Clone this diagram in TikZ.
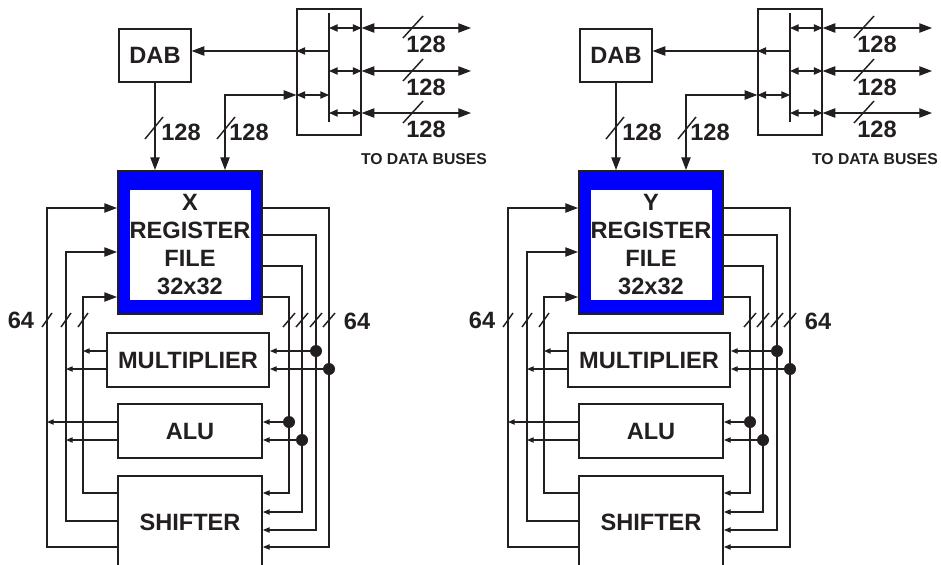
\documentclass[tikz,border=0pt]{standalone}
\usepackage{fontspec}
\setmainfont{Liberation Sans}
\usetikzlibrary{arrows.meta}
\definecolor{ink}{RGB}{35,31,32}
\tikzset{
  bigtip/.tip={Triangle[length=9.5pt,width=7pt]},
  medtip/.tip={Triangle[length=6.5pt,width=5.5pt]},
  smalltip/.tip={Triangle[length=5pt,width=4pt]},
  conn/.style={draw=ink,line width=0.8pt},
  slash/.style={draw=ink,line width=1.1pt},
  bar/.style={draw=ink,line width=1.6pt},
  thinbox/.style={draw=ink,line width=0.9pt,inner sep=0pt,fill=white},
  fnbox/.style={draw=ink,line width=1.4pt,inner sep=0pt,fill=white},
  rfouter/.style={draw=ink,line width=1.5pt,fill=blue,inner sep=0pt},
  rfinner/.style={fill=white,draw=none,inner sep=0pt},
  dot/.style={circle,fill=ink,draw=none,minimum size=9pt,inner sep=0pt},
  lbl/.style={inner sep=0pt},
  smalllbl/.style={inner sep=0pt,font=\bfseries\fontsize{11.8}{13}\selectfont},
}
\newcommand\regunit[3]{%
\begin{scope}[xshift=#2*0.75pt]
  % boxes
  \node[thinbox,minimum width=54pt,minimum height=39.75pt] (dab#1) at (155,55.5) {DAB};
  \node[thinbox,minimum width=48pt,minimum height=94.5pt] (mux#1) at (329,72) {};
  \node[rfouter,minimum width=108pt,minimum height=107.25pt] (rf#1) at (190,242.5) {};
  \node[rfinner,minimum width=90.75pt,minimum height=82.5pt,align=center] (rft#1) at (190,244.5) {#1\\REGISTER\\FILE\\32x32};
  \node[fnbox,minimum width=121.5pt,minimum height=40.5pt] (mul#1) at (188,360) {MULTIPLIER};
  \node[fnbox,minimum width=108pt,minimum height=40.5pt] (alu#1) at (190,431) {ALU};
  \node[fnbox,minimum width=108pt,minimum height=69pt] (shf#1) at (190,522) {SHIFTER};
  % bus bar in mux
  \coordinate (bt#1) at (329,13);
  \coordinate (bb#1) at (329,122);
  \draw[bar] (bt#1) -- (bb#1);
  \foreach \yy/\nn in {28/a,71/b,113/c}{
    \coordinate (bus\nn#1) at (329,\yy);
    \coordinate (be\nn#1) at (471,\yy);
    \draw[conn,{medtip}-{medtip}] (bus\nn#1) -- (bus\nn#1 -| mux#1.east);
    \draw[conn,{bigtip}-{bigtip}] (bus\nn#1 -| mux#1.east) -- (be\nn#1);
  }
  % to DAB
  \coordinate (df#1) at (329,51);
  \draw[conn,-{medtip}] (df#1) -- (df#1 -| mux#1.west);
  \draw[conn,-{bigtip}] (df#1 -| mux#1.west) -- (df#1 -| dab#1.east);
  % register file bidirectional
  \coordinate (rb#1) at (329,95);
  \coordinate (rc#1) at (225,95);
  \draw[conn,{medtip}-{medtip}] (rb#1 -| mux#1.west) -- (rb#1);
  \draw[conn,{bigtip}-{bigtip}] (rc#1 |- rf#1.north) -- (rc#1) -- (rb#1 -| mux#1.west);
  % DAB down
  \draw[conn,-{bigtip}] (dab#1.south) -- (dab#1.south |- rf#1.north);
  % 128 slashes on vertical lines
  \draw[slash] (145,139) -- (163,117);
  \node[lbl] (la#1) at (181,132) {128};
  \draw[slash] (217,139) -- (235,117);
  \node[lbl] (lb#1) at (249,132) {128};
  \begin{scope}[xshift=#3*0.75pt]
    \foreach \yy/\nn in {28/a,71/b,113/c}{
      \draw[slash] (403,\yy+10) -- (423,\yy-12);
      \node[lbl] (lbl\nn#1) at (426,\yy+16) {128};
    }
    \node[smalllbl] (tdb#1) at (424,159) {TO DATA BUSES};
  \end{scope}
  % left feedback columns
  \coordinate (s1#1) at (83,493);
  \coordinate (s2#1) at (66,521);
  \coordinate (s3#1) at (47,547);
  \coordinate (t1#1) at (47,208);
  \coordinate (t2#1) at (66,252);
  \coordinate (t3#1) at (83,297);
  \draw[conn,-{bigtip}] (s3#1 -| shf#1.west) -- (s3#1) -- (t1#1) -- (t1#1 -| rf#1.west);
  \draw[conn,-{bigtip}] (s2#1 -| shf#1.west) -- (s2#1) -- (t2#1) -- (t2#1 -| rf#1.west);
  \draw[conn,-{bigtip}] (s1#1 -| shf#1.west) -- (s1#1) -- (t3#1) -- (t3#1 -| rf#1.west);
  \coordinate (mo1#1) at (83,351);
  \coordinate (mo2#1) at (66,369);
  \coordinate (ao1#1) at (47,422);
  \coordinate (ao2#1) at (66,440);
  \draw[conn,-{smalltip}] (mo1#1 -| mul#1.west) -- (mo1#1);
  \draw[conn,-{smalltip}] (mo2#1 -| mul#1.west) -- (mo2#1);
  \draw[conn,-{smalltip}] (ao1#1 -| alu#1.west) -- (ao1#1);
  \draw[conn,-{smalltip}] (ao2#1 -| alu#1.west) -- (ao2#1);
  % right columns
  \foreach \xx/\ya/\yb/\nn in {329/208/547/a,316/235/530/b,302/266/512/c,289/297/493/d}{
    \coordinate (rt\nn#1) at (\xx,\ya);
    \coordinate (rd\nn#1) at (\xx,\yb);
    \draw[conn,-{smalltip}] (rt\nn#1 -| rf#1.east) -- (rt\nn#1) -- (rd\nn#1) -- (rd\nn#1 -| shf#1.east);
  }
  \node[dot] (ja#1) at (329,369) {};
  \node[dot] (jb#1) at (316,351) {};
  \node[dot] (jc#1) at (302,440) {};
  \node[dot] (jd#1) at (289,422) {};
  \draw[conn,-{smalltip}] (ja#1) -- (ja#1 -| mul#1.east);
  \draw[conn,-{smalltip}] (jb#1) -- (jb#1 -| mul#1.east);
  \draw[conn,-{smalltip}] (jc#1) -- (jc#1 -| alu#1.east);
  \draw[conn,-{smalltip}] (jd#1) -- (jd#1 -| alu#1.east);
  % 64 slashes
  \foreach \xx in {47,66,83}{\draw[slash] (\xx-5,327) -- (\xx+5,313);}
  \foreach \xx in {289,302,316,329}{\draw[slash] (\xx-6,327) -- (\xx+6,313);}
  \node[lbl] (sa#1) at (21,320) {64};
  \node[lbl] (sb#1) at (357,321) {64};
\end{scope}}
\begin{document}
\begin{tikzpicture}[x=0.75pt,y=-0.75pt,font=\bfseries\fontsize{17.7}{21}\selectfont,text=ink]
\useasboundingbox (0,0) rectangle (941,564);
\clip (0,0) rectangle (941,564);
\regunit{X}{0}{0}
\regunit{Y}{461}{-10}
\end{tikzpicture}
\end{document}
